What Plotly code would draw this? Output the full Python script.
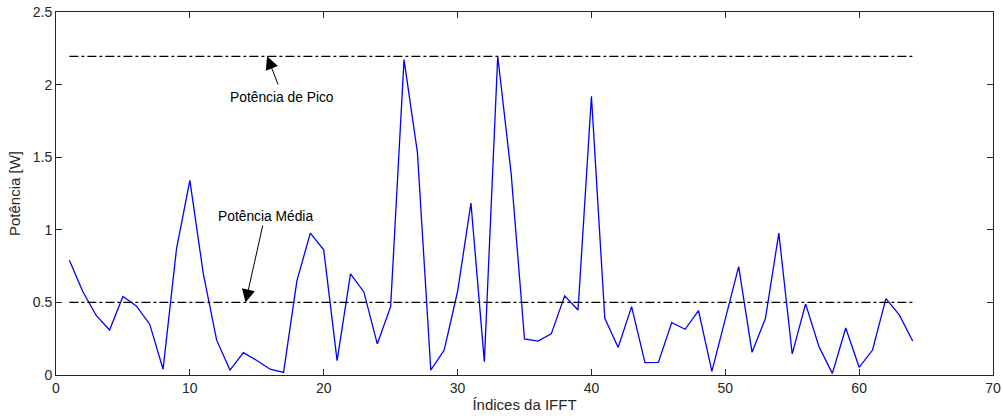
import plotly.graph_objects as go

# IFFT sample indices and instantaneous power per sample
indices = list(range(1, 65))
power = [
    0.79, 0.575, 0.41, 0.31, 0.54, 0.476, 0.35, 0.04, 0.867, 1.34,
    0.70, 0.24, 0.034, 0.154, 0.10, 0.04, 0.018, 0.65, 0.977, 0.862,
    0.099, 0.697, 0.572, 0.214, 0.471, 2.172, 1.533, 0.034, 0.172, 0.575,
    1.184, 0.092, 2.195, 1.39, 0.248, 0.234, 0.283, 0.545, 0.448, 1.92,
    0.39, 0.19, 0.471, 0.085, 0.087, 0.361, 0.315, 0.444, 0.025, 0.386,
    0.747, 0.156, 0.39, 0.977, 0.145, 0.49, 0.195, 0.011, 0.324, 0.053,
    0.172, 0.526, 0.414, 0.234,
]
mean_power = 0.5
peak_power = max(power)

x_ticks = [0, 10, 20, 30, 40, 50, 60, 70]
y_ticks = [0, 0.5, 1, 1.5, 2, 2.5]
y_tick_text = ["0", "0.5", "1", "1.5", "2", "2.5"]

axis_color = "#262626"
font_family = "Liberation Sans, Arial, sans-serif"

fig = go.Figure()

fig.add_trace(go.Scatter(
    x=indices, y=power, mode="lines",
    line=dict(color="#0000FF", width=1.3),
    showlegend=False, hoverinfo="skip",
))

for level in (peak_power, mean_power):
    fig.add_trace(go.Scatter(
        x=[indices[0], indices[-1]], y=[level, level], mode="lines",
        line=dict(color="black", width=1.3, dash="dashdot"),
        showlegend=False, hoverinfo="skip",
    ))

# Labels with arrows pointing at the reference levels
labels = [
    dict(text="Potência de Pico", tx=16.87, ty=1.91,
         head=(15.77, peak_power), tail=(16.64, 1.99)),
    dict(text="Potência Média", tx=15.67, ty=1.09,
         head=(14.16, mean_power), tail=(15.47, 1.04)),
]
for lab in labels:
    fig.add_annotation(
        x=lab["tx"], y=lab["ty"], text=lab["text"], showarrow=False,
        font=dict(family=font_family, size=13.8, color="black"),
        xanchor="center", yanchor="middle",
    )
    fig.add_annotation(
        x=lab["head"][0], y=lab["head"][1],
        ax=lab["tail"][0], ay=lab["tail"][1],
        axref="x", ayref="y", text="", showarrow=True,
        arrowhead=2, arrowsize=2.6, arrowwidth=1, arrowcolor="black",
    )

fig.update_layout(
    width=1003, height=419,
    margin=dict(l=56, r=10, t=12, b=44, autoexpand=False),
    paper_bgcolor="white", plot_bgcolor="white",
    font=dict(family=font_family, size=14, color=axis_color),
)
fig.update_xaxes(
    range=[0, 70], tickvals=x_ticks, ticks="inside", ticklen=6,
    showline=True, mirror="allticks", linecolor=axis_color, linewidth=1,
    tickcolor=axis_color, showgrid=False, zeroline=False, automargin=False,
    title=dict(text="Índices da IFFT", standoff=4,
               font=dict(family=font_family, size=15, color=axis_color)),
)
fig.update_yaxes(
    range=[0, 2.5], tickvals=y_ticks, ticktext=y_tick_text,
    ticks="inside", ticklen=6,
    showline=True, mirror="allticks", linecolor=axis_color, linewidth=1,
    tickcolor=axis_color, showgrid=False, zeroline=False, automargin=False,
    title=dict(text="Potência [W]", standoff=8,
               font=dict(family=font_family, size=15, color=axis_color)),
)

fig.write_html("out.html")
